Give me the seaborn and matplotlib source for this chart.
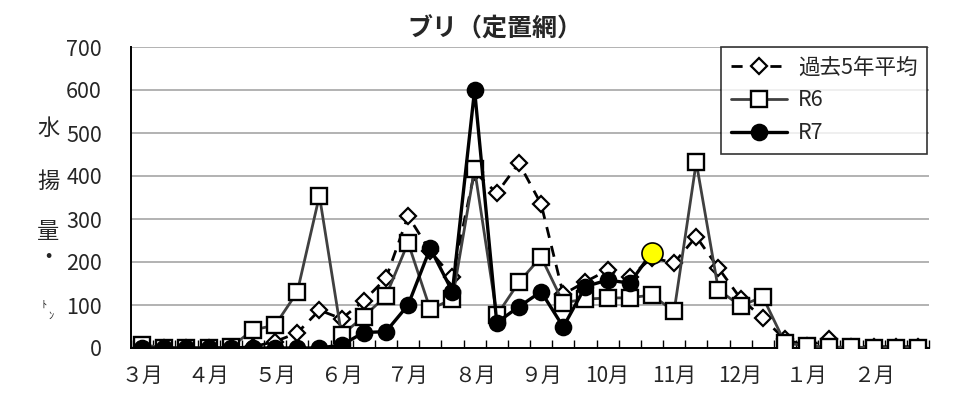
import matplotlib
matplotlib.use("Agg")
import matplotlib.pyplot as plt
import seaborn as sns
import numpy as np
import pandas as pd

# ---- data (旬別: 上・中・下旬, 3月〜翌2月) ----
month_labels = ["３月", "４月", "５月", "６月", "７月", "８月", "９月",
                "10月", "11月", "12月", "１月", "２月"]
avg5 = [3, 0, 0, 0, 0, 3, 15, 35, 88, 68, 110, 162, 307, 225, 165, 410, 360, 430,
        335, 125, 154, 181, 165, 210, 198, 259, 186, 115, 70, 20, 5, 20, 3, 3, 3, 3]
r6 = [8, 0, 0, 0, 2, 42, 53, 130, 354, 30, 73, 121, 245, 90, 114, 416, 76, 153,
      212, 105, 114, 116, 117, 123, 85, 432, 135, 98, 119, 12, 5, 2, 2, 1, 1, 1]
r7 = [0, 0, 0, 0, 0, 0, 0, 0, 0, 7, 36, 38, 100, 232, 131, 600, 59, 96,
      131, 49, 143, 158, 151, 222]
title = "ブリ（定置網）"
series_names = ["過去5年平均", "R6", "R7"]
ylabel_chars = ["水", "揚", "量", "・"]

sns.set_theme(style="white")
plt.rcParams["font.family"] = ["Liberation Sans Narrow", "Noto Sans CJK JP", "DejaVu Sans"]
CJK = ["Noto Sans CJK JP", "DejaVu Sans"]

fig = plt.figure(figsize=(9.6, 4.09), dpi=100)
ax = fig.add_axes([131 / 960, 1 - 348 / 409, (929 - 131) / 960, (348 - 47) / 409])

n = len(avg5)
df_avg = pd.DataFrame({"x": np.arange(n), "y": avg5})
df_r6 = pd.DataFrame({"x": np.arange(len(r6)), "y": r6})
df_r7 = pd.DataFrame({"x": np.arange(len(r7)), "y": r7})

sns.lineplot(data=df_avg, x="x", y="y", ax=ax, color="black", linewidth=2,
             linestyle=(0, (4, 3)), marker="D", markersize=8.5,
             markerfacecolor="white", markeredgecolor="black", markeredgewidth=1.6,
             label=series_names[0], zorder=3)
sns.lineplot(data=df_r6, x="x", y="y", ax=ax, color="#404040", linewidth=2,
             marker="s", markersize=11, markerfacecolor="white",
             markeredgecolor="black", markeredgewidth=1.7,
             label=series_names[1], zorder=4)
sns.lineplot(data=df_r7, x="x", y="y", ax=ax, color="black", linewidth=2.4,
             marker="o", markersize=11.5, markerfacecolor="black",
             markeredgecolor="black", markeredgewidth=1.2,
             label=series_names[2], zorder=5)
# latest point highlighted
sns.scatterplot(x=[df_r7["x"].iloc[-1]], y=[df_r7["y"].iloc[-1]], ax=ax, s=230,
                color="#ffff00", edgecolor="black", linewidth=1.2, zorder=6,
                legend=False)

ax.set_xlim(-0.5, n - 0.5)
ax.set_ylim(0, 700)
ax.set_yticks(range(0, 701, 100))
ax.set_xticks(np.arange(0, n, 3))
ax.set_xticklabels(month_labels)
ax.set_xticks(np.arange(-0.5, n, 1), minor=True)
ax.tick_params(axis="x", which="major", length=0, pad=12, labelsize=15)
ax.tick_params(axis="x", which="minor", direction="in", length=6, width=1, color="black",
               bottom=True)
ax.tick_params(axis="y", length=0, pad=21, labelsize=15.5)
for lab in ax.get_xticklabels():
    lab.set_fontfamily(CJK)
ax.set_xlabel("")
ax.set_ylabel("")

ax.yaxis.grid(True, color="#a6a6a6", linewidth=1.2)
ax.xaxis.grid(False)
for s in ["top", "right"]:
    ax.spines[s].set_visible(False)
for s in ["left", "bottom"]:
    ax.spines[s].set_visible(True)
    ax.spines[s].set_color("black")
    ax.spines[s].set_linewidth(1.4)
ax.set_axisbelow(True)

leg = ax.legend(loc="upper right", bbox_to_anchor=(927 / 960, 1 - 47 / 409),
                bbox_transform=fig.transFigure, borderaxespad=0, frameon=True,
                fancybox=False, edgecolor="black", fontsize=15.5, handlelength=2.6,
                labelspacing=0.5, borderpad=0.45, handletextpad=0.5)
leg.get_frame().set_linewidth(1.2)
for t in leg.get_texts():
    t.set_fontfamily(CJK)

fig.text(495 / 960, 1 - 29 / 409, title, ha="center", va="center", fontsize=18,
         fontweight="bold", family=CJK)

ys = [128, 181, 232, 258]
for ch, yy in zip(ylabel_chars, ys):
    fig.text(48 / 960, 1 - yy / 409, ch, ha="center", va="center", fontsize=16,
             family=CJK)
fig.text(44 / 960, 1 - 305 / 409, "ﾄ", ha="center", va="center", fontsize=7.5, family=CJK)
fig.text(51 / 960, 1 - 316 / 409, "ﾝ", ha="center", va="center", fontsize=7.5, family=CJK)

fig.savefig("out.png", dpi=100)
